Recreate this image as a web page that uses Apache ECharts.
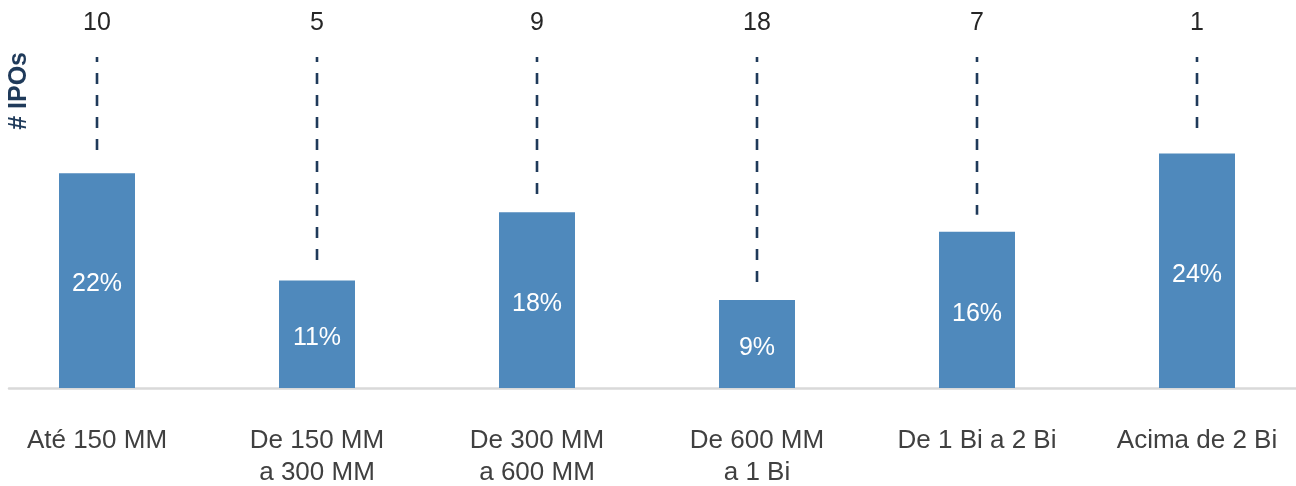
<!DOCTYPE html>
<html>
<head>
<meta charset="utf-8">
<script src="https://cdn.jsdelivr.net/npm/echarts@6/dist/echarts.min.js"></script>
<style>
  html, body { margin: 0; padding: 0; background: #fff; }
  #chart { width: 1296px; height: 486px; }
</style>
</head>
<body>
<div id="chart"></div>
<script>
// IPO offer-size buckets
const categories = ['Até 150 MM', 'De 150 MM\na 300 MM', 'De 300 MM\na 600 MM', 'De 600 MM\na 1 Bi', 'De 1 Bi a 2 Bi', 'Acima de 2 Bi'];
// share of total per bucket (%)
const shares = [22, 11, 18, 9, 16, 24];
// number of IPOs per bucket
const ipoCounts = [10, 5, 9, 18, 7, 1];

const FONT = 'Arial, "Liberation Sans", sans-serif';
const NAVY = '#1f3a5a';
const BAR = '#4f89bc';

const chart = echarts.init(document.getElementById('chart'), null, { renderer: 'canvas' });

chart.setOption({
  animation: false,
  grid: [
    // categories sit on ticks so the first and last bars land near the edges
    { left: 97, right: 99, top: 95, bottom: 98, outerBoundsMode: 'none', containLabel: false },
    { left: 9, right: 0, top: 95, bottom: 98, outerBoundsMode: 'none', containLabel: false }
  ],
  xAxis: [
    {
      type: 'category', gridIndex: 0, data: categories, boundaryGap: false,
      axisLine: { show: false }, axisTick: { show: false },
      axisLabel: { color: '#404040', fontFamily: FONT, fontSize: 26, lineHeight: 32, margin: 37, interval: 0 }
    },
    {
      type: 'value', gridIndex: 1, min: 0, max: 1,
      axisLine: { show: true, lineStyle: { color: '#d9d9d9', width: 2.5 } },
      axisTick: { show: false }, axisLabel: { show: false }, splitLine: { show: false }
    }
  ],
  yAxis: [
    { type: 'value', gridIndex: 0, min: 0, max: 30, show: false },
    { type: 'value', gridIndex: 1, min: 0, max: 1, show: false }
  ],
  graphic: [{
    type: 'text', left: 7, top: 52,
    rotation: Math.PI / 2, originX: 0, originY: 0,
    style: { text: '# IPOs', fill: NAVY, font: 'bold 25px ' + FONT }
  }],
  series: [
    {
      type: 'bar', xAxisIndex: 0, yAxisIndex: 0,
      data: shares, barWidth: 76, clip: false,
      itemStyle: { color: BAR },
      label: {
        show: true, position: 'inside', offset: [0, 4],
        formatter: p => p.value + '%',
        color: '#fff', fontFamily: FONT, fontSize: 25
      }
    },
    {
      // dashed leader from the IPO count down toward each bar
      type: 'custom', xAxisIndex: 0, yAxisIndex: 0, clip: false,
      data: shares.map((v, i) => [i, v, ipoCounts[i]]),
      renderItem: (params, api) => {
        const cs = params.coordSys;
        const top = api.coord([api.value(0), api.value(1)]);
        const x = top[0];
        const y0 = cs.y - 38;
        const y1 = top[1] - 17;
        return {
          type: 'group',
          children: [
            {
              type: 'line',
              shape: { x1: x, y1: y0, x2: x, y2: y1 },
              style: { stroke: NAVY, lineWidth: 2.6, lineDash: [11, 11], lineDashOffset: 6 }
            },
            {
              type: 'text',
              x: x, y: cs.y - 72,
              style: {
                text: String(api.value(2)), fill: '#262626', font: '25px ' + FONT,
                textAlign: 'center', textVerticalAlign: 'middle'
              }
            }
          ]
        };
      }
    }
  ]
});
</script>
</body>
</html>
